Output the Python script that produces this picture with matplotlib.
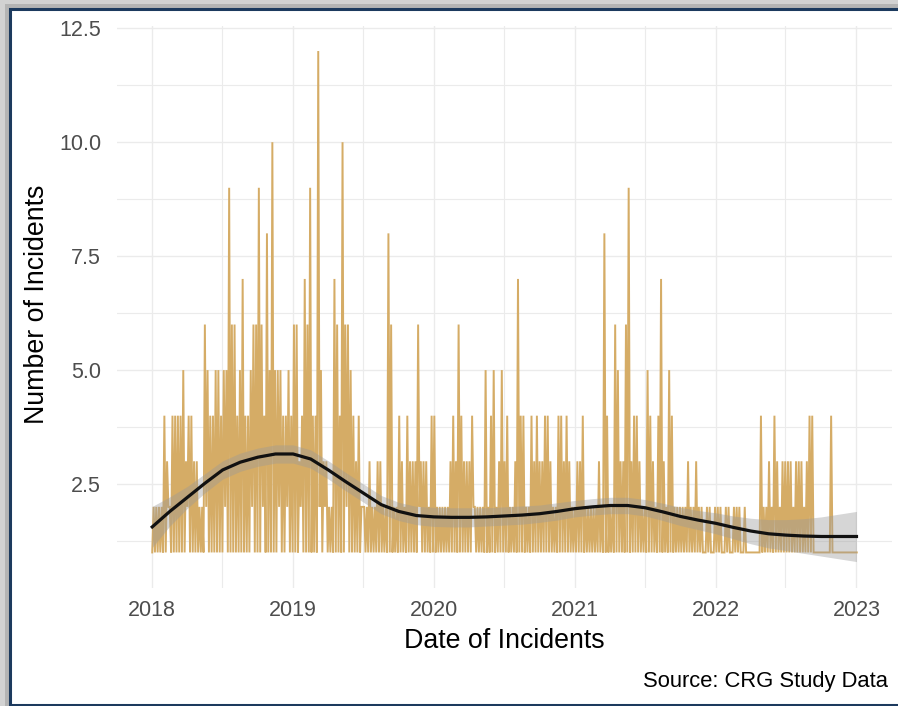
import numpy as np
import matplotlib
matplotlib.use("Agg")
import matplotlib.pyplot as plt
import matplotlib.dates as mdates
from matplotlib.patches import Rectangle

plt.rcParams['font.family'] = ['Liberation Sans', 'DejaVu Sans']

# highest daily incident count in each week, starting Monday 2018-01-01
weekly_high = [
    2, 2, 2, 2, 4, 3, 2, 4, 4, 4,
    4, 5, 3, 4, 4, 3, 3, 2, 2, 6,
    5, 4, 4, 5, 5, 4, 5, 5, 9, 6,
    6, 4, 5, 7, 4, 4, 5, 6, 6, 9,
    6, 4, 8, 5, 10, 5, 5, 5, 4, 4,
    5, 4, 6, 6, 3, 4, 7, 6, 9, 4,
    4, 12, 5, 3, 3, 2, 2, 7, 6, 4,
    10, 6, 6, 5, 4, 3, 4, 2, 2, 2,
    3, 2, 2, 3, 3, 2, 2, 8, 6, 2,
    2, 4, 3, 2, 4, 3, 3, 3, 6, 3,
    3, 3, 2, 4, 4, 2, 2, 2, 2, 2,
    3, 4, 3, 6, 4, 3, 3, 3, 4, 2,
    2, 2, 2, 5, 2, 4, 5, 2, 3, 5,
    3, 4, 2, 2, 3, 7, 4, 4, 2, 2,
    4, 3, 4, 3, 3, 4, 4, 3, 2, 2,
    4, 4, 3, 4, 3, 2, 2, 3, 3, 4,
    2, 2, 2, 2, 2, 3, 2, 8, 4, 2,
    2, 6, 5, 3, 3, 6, 9, 3, 4, 4,
    3, 2, 2, 5, 4, 3, 2, 4, 7, 3,
    2, 5, 4, 2, 2, 2, 2, 2, 3, 2,
    2, 3, 2, 2, 1, 2, 2, 1, 2, 2,
    2, 1, 2, 2, 1, 2, 2, 2, 1, 2,
    1, 1, 1, 1, 1, 4, 2, 2, 3, 2,
    4, 3, 2, 3, 3, 3, 3, 2, 3, 3,
    3, 2, 3, 4, 4, 1, 1, 1, 1, 1,
    1, 4, 1, 1, 1, 1, 1, 1, 1, 1,
    1,
]
# weeks whose lowest daily count stayed at 2 instead of 1
raised_floor_weeks = [6, 13, 20, 27, 37, 41, 47, 50, 55, 62, 64, 72, 78, 99, 119]

# loess trend and its standard error, every eighth of a year 2018.0 .. 2023.0
smooth_fit = [
    1.56, 1.90, 2.21, 2.52, 2.81, 2.98, 3.09, 3.16,
    3.16, 3.05, 2.81, 2.55, 2.30, 2.05, 1.90, 1.81,
    1.78, 1.77, 1.77, 1.78, 1.80, 1.82, 1.85, 1.90,
    1.96, 2.00, 2.03, 2.03, 1.98, 1.89, 1.79, 1.71,
    1.64, 1.55, 1.47, 1.41, 1.38, 1.36, 1.35, 1.35,
    1.35,
]
smooth_se = [
    0.45, 0.32, 0.24, 0.21, 0.20, 0.20, 0.20, 0.20,
    0.20, 0.20, 0.20, 0.20, 0.20, 0.20, 0.20, 0.20,
    0.21, 0.21, 0.21, 0.20, 0.20, 0.20, 0.19, 0.19,
    0.18, 0.18, 0.18, 0.18, 0.18, 0.19, 0.20, 0.21,
    0.23, 0.25, 0.28, 0.31, 0.34, 0.38, 0.43, 0.49,
    0.55,
]

count_ticks = [2.5, 5.0, 7.5, 10.0, 12.5]
count_minor = [1.25, 3.75, 6.25, 8.75, 11.25]

tan = '#D5AC66'
grid_col = '#EBEBEB'
text_grey = '#4D4D4D'

# weekly zig-zag: low at the start of the week, high mid-week
n = len(weekly_high)
t0 = mdates.date2num(np.datetime64('2018-01-01'))
week_start = t0 + 7.0 * np.arange(n)
week_low = np.ones(n)
week_low[raised_floor_weeks] = 2

xs = np.empty(2 * n + 1)
ys = np.empty(2 * n + 1)
xs[0:-1:2] = week_start
xs[1::2] = week_start + 3.5
xs[-1] = week_start[-1] + 7.0
ys[0:-1:2] = week_low
ys[1::2] = weekly_high
ys[-1] = 1

smooth_x = t0 + np.arange(len(smooth_fit)) * 365.25 / 8
fit = np.array(smooth_fit)
se = np.array(smooth_se)

fig = plt.figure(figsize=(8.98, 7.06), dpi=100, facecolor='#D2D2D2')
W, H = 898, 706

def px_rect(x0, y0, x1, y1, **kw):
    # rectangle given in pixel coords measured from the top-left corner
    return Rectangle((x0 / W, 1 - y1 / H), (x1 - x0) / W, (y1 - y0) / H,
                     transform=fig.transFigure, **kw)

fig.add_artist(px_rect(5, 4, 905, 710, facecolor='#B4B4B4', edgecolor='none', zorder=-10))
fig.add_artist(px_rect(9.5, 8.5, 900, 704.5, facecolor='white', edgecolor='#1C3A5E',
                       linewidth=2.2, zorder=-9))

ax = fig.add_axes([117 / W, 1 - 588 / H, (892 - 117) / W, (588 - 25.5) / H])
ax.set_facecolor('none')

ax.plot(xs, ys, color=tan, linewidth=1.4, solid_joinstyle='miter', zorder=2)
ax.fill_between(smooth_x, fit - se, fit + se, color='#999999', alpha=0.4,
                linewidth=0, zorder=3)
ax.plot(smooth_x, fit, color='#111111', linewidth=2.3, zorder=4)

span = xs[-1] - xs[0]
ax.set_xlim(xs[0] - 0.05 * span, xs[-1] + 0.05 * span)
ax.set_ylim(0.22, 12.56)

ax.xaxis.set_major_locator(mdates.YearLocator())
ax.xaxis.set_major_formatter(mdates.DateFormatter('%Y'))
ax.xaxis.set_minor_locator(mdates.MonthLocator(bymonth=7))
ax.set_yticks(count_ticks)
ax.set_yticklabels([f'{v:.1f}' for v in count_ticks])
ax.set_yticks(count_minor, minor=True)

ax.grid(True, which='major', color=grid_col, linewidth=1.0, zorder=0)
ax.grid(True, which='minor', color=grid_col, linewidth=0.8, zorder=0)
ax.set_axisbelow(True)
for s in ax.spines.values():
    s.set_visible(False)
ax.tick_params(which='both', length=0)
ax.tick_params(axis='x', labelsize=15.5, labelcolor=text_grey, pad=9)
ax.tick_params(axis='y', labelsize=15.5, labelcolor=text_grey, pad=11.5)

fig.text(504.5 / W, 1 - 641 / H, 'Date of Incidents', ha='center', va='center',
         fontsize=19.3, color='black')
fig.text(37 / W, 1 - 304 / H, 'Number of Incidents', ha='center', va='center',
         rotation=90, fontsize=19.3, color='black')
fig.text(888 / W, 1 - 681 / H, 'Source: CRG Study Data', ha='right', va='center',
         fontsize=15.8, color='black')

fig.savefig('out.png', dpi=100, facecolor=fig.get_facecolor())
